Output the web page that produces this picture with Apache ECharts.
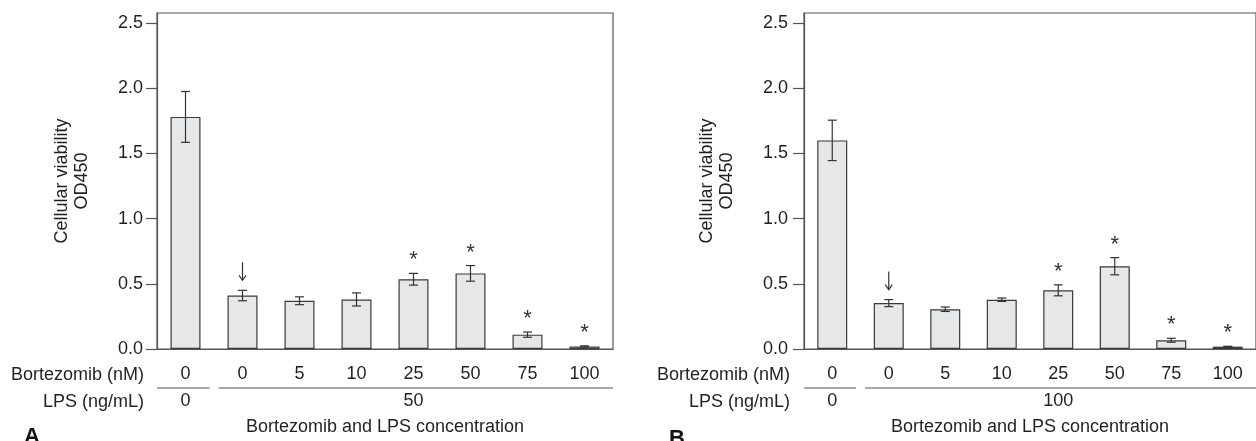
<!DOCTYPE html>
<html>
<head>
<meta charset="utf-8">
<script src="https://cdn.jsdelivr.net/npm/echarts@6/dist/echarts.min.js"></script>
<style>
  html, body { margin: 0; padding: 0; background: #fff; }
  #chart { width: 1256px; height: 441px; }
</style>
</head>
<body>
<div id="chart"></div>
<script>
// categories and values
var bortezomib = ['0', '0', '5', '10', '25', '50', '75', '100'];
var lpsA = ['0', '', '', '', '50', '', '', ''];
var lpsB = ['0', '', '', '', '100', '', '', ''];
var meanA = [1.78, 0.41, 0.37, 0.38, 0.535, 0.58, 0.11, 0.02];
var errA = [0.195, 0.04, 0.03, 0.05, 0.045, 0.06, 0.02, 0.004];
var meanB = [1.60, 0.352, 0.305, 0.378, 0.45, 0.635, 0.067, 0.018];
var errB = [0.155, 0.027, 0.017, 0.013, 0.042, 0.066, 0.015, 0.003];
var marks = ['', 'arrow', '', '', '*', '*', '*', '*'];
var lpsGroups = [[0, 0], [1, 7]];
var yTicks = [0, 0.5, 1.0, 1.5, 2.0, 2.5];

var FONT = '"Liberation Sans", Arial, sans-serif';
var TXT = '#231f20';
var AXIS = '#555';

function errData(mean, err) {
    return mean.map(function (v, i) { return [i, v, err[i]]; });
}

function renderErr(params, api) {
    var x = api.value(0), v = api.value(1), e = api.value(2);
    var top = api.coord([x, v + e]);
    var bot = api.coord([x, v - e]);
    var h = 4.5;
    var st = { stroke: '#333', lineWidth: 1.2 };
    return {
        type: 'group',
        children: [
            { type: 'line', shape: { x1: top[0], y1: top[1], x2: bot[0], y2: bot[1] }, style: st },
            { type: 'line', shape: { x1: top[0] - h, y1: top[1], x2: top[0] + h, y2: top[1] }, style: st },
            { type: 'line', shape: { x1: bot[0] - h, y1: bot[1], x2: bot[0] + h, y2: bot[1] }, style: st }
        ]
    };
}

function renderMark(params, api) {
    var m = marks[params.dataIndex];
    if (!m) return null;
    var top = api.coord([api.value(0), api.value(1) + api.value(2)]);
    if (m === 'arrow') {
        var x = top[0], yb = top[1] - 10, yt = top[1] - 28;
        var st = { stroke: '#333', lineWidth: 1.2, fill: null };
        return {
            type: 'group',
            children: [
                { type: 'line', shape: { x1: x, y1: yt, x2: x, y2: yb }, style: st },
                { type: 'polyline', shape: { points: [[x - 3.5, yb - 5], [x, yb], [x + 3.5, yb - 5]] }, style: st }
            ]
        };
    }
    return {
        type: 'text',
        x: top[0],
        y: top[1] - 13,
        style: {
            text: m,
            fill: '#333',
            font: '22px ' + FONT,
            align: 'center',
            verticalAlign: 'middle'
        }
    };
}

function renderGroupLine(params, api) {
    var g0 = api.value(0), g1 = api.value(1);
    var size = api.size([1, 0])[0];
    var a = api.coord([g0, 0]);
    var b = api.coord([g1, 0]);
    var x1 = a[0] - size / 2 + (g0 > 0 ? 4.5 : 0);
    var x2 = b[0] + size / 2 - (g1 < bortezomib.length - 1 ? 4.5 : 0);
    var y = a[1] + 39;
    return { type: 'line', shape: { x1: x1, y1: y, x2: x2, y2: y }, style: { stroke: '#555', lineWidth: 1.2 } };
}

function xMain(gi) {
    return {
        type: 'category', gridIndex: gi, data: bortezomib, position: 'bottom',
        axisLine: { lineStyle: { color: AXIS, width: 1.2 } },
        axisTick: { length: 11, lineStyle: { color: AXIS, width: 1.2 } },
        axisLabel: { interval: 0, margin: 16, color: TXT, fontSize: 18, fontFamily: FONT },
        name: 'Bortezomib and LPS concentration', nameLocation: 'middle', nameGap: 69,
        nameTextStyle: { color: TXT, fontSize: 18, fontFamily: FONT }
    };
}

function xLps(gi, lps) {
    return {
        type: 'category', gridIndex: gi, data: lps, position: 'bottom', offset: 27,
        axisLine: { show: false }, axisTick: { show: false },
        axisLabel: { interval: 0, margin: 16, color: TXT, fontSize: 18, fontFamily: FONT }
    };
}

function yAxis(gi, gap, margin) {
    return {
        type: 'value', gridIndex: gi, min: 0, max: 2.577,
        splitLine: { show: false },
        axisLine: { show: true, lineStyle: { color: AXIS, width: 1.2 } },
        axisTick: { show: true, length: 11, customValues: yTicks, lineStyle: { color: AXIS, width: 1.2 } },
        axisLabel: {
            customValues: yTicks, margin: margin, color: TXT, fontSize: 18, fontFamily: FONT,
            formatter: function (v) { return v.toFixed(1); }
        },
        name: 'Cellular viability\nOD450', nameLocation: 'middle', nameRotate: 90, nameGap: gap,
        nameTextStyle: { color: TXT, fontSize: 18, lineHeight: 20, fontFamily: FONT }
    };
}

function panelSeries(xi, yi, mean, err) {
    return [
        {
            type: 'bar', xAxisIndex: xi, yAxisIndex: yi, data: mean, barWidth: 30,
            itemStyle: { color: '#e6e7e8', borderColor: '#3a3a3a', borderWidth: 1.2 },
            silent: true
        },
        { type: 'custom', xAxisIndex: xi, yAxisIndex: yi, data: errData(mean, err), renderItem: renderErr, z: 3, silent: true },
        { type: 'custom', xAxisIndex: xi, yAxisIndex: yi, data: errData(mean, err), renderItem: renderMark, z: 3, silent: true },
        { type: 'custom', xAxisIndex: xi, yAxisIndex: yi, data: lpsGroups, renderItem: renderGroupLine, clip: false, silent: true }
    ];
}

var option = {
    animation: false,
    textStyle: { fontFamily: FONT },
    grid: [
        { left: 157, top: 13, width: 456, height: 337, show: true, borderColor: AXIS, borderWidth: 1.2 },
        { left: 804, top: 13, width: 457, height: 337, show: true, borderColor: AXIS, borderWidth: 1.2 }
    ],
    xAxis: [xMain(0), xLps(0, lpsA), xMain(1), xLps(1, lpsB)],
    yAxis: [yAxis(0, 65, 14), yAxis(1, 67, 16)],
    graphic: [
        { type: 'text', x: 144, y: 375, style: { text: 'Bortezomib (nM)', fill: TXT, font: '18px ' + FONT, align: 'right', verticalAlign: 'middle' } },
        { type: 'text', x: 144, y: 402, style: { text: 'LPS (ng/mL)', fill: TXT, font: '18px ' + FONT, align: 'right', verticalAlign: 'middle' } },
        { type: 'text', x: 790, y: 375, style: { text: 'Bortezomib (nM)', fill: TXT, font: '18px ' + FONT, align: 'right', verticalAlign: 'middle' } },
        { type: 'text', x: 790, y: 402, style: { text: 'LPS (ng/mL)', fill: TXT, font: '18px ' + FONT, align: 'right', verticalAlign: 'middle' } },
        { type: 'text', x: 24, y: 426, style: { text: 'A', fill: '#111', font: 'bold 22px ' + FONT } },
        { type: 'text', x: 669, y: 428, style: { text: 'B', fill: '#111', font: 'bold 22px ' + FONT } }
    ],
    series: panelSeries(0, 0, meanA, errA).concat(panelSeries(2, 1, meanB, errB))
};

echarts.init(document.getElementById('chart')).setOption(option, true);
</script>
</body>
</html>
